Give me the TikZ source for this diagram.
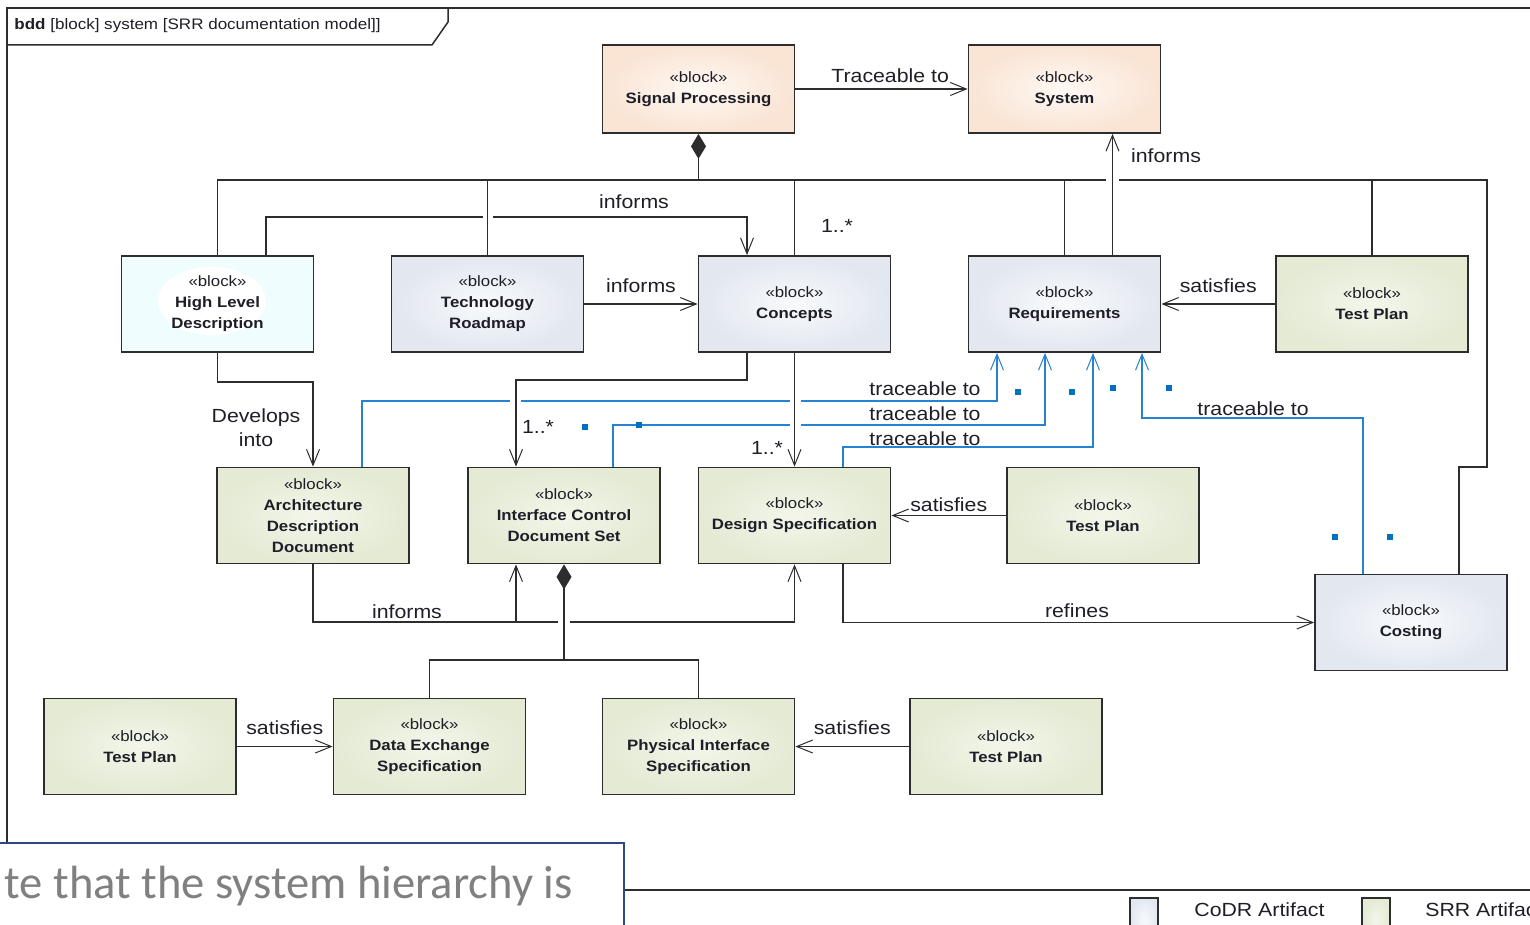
\documentclass[tikz,border=0pt]{standalone}
\usepackage{fontspec}
\newfontfamily\diafont{Liberation Sans}[FakeStretch=1.12]
\newfontfamily\notefont{Carlito}
\usetikzlibrary{arrows.meta}

\definecolor{edge}{RGB}{45,45,45}
\definecolor{ink}{RGB}{30,30,40}
\definecolor{trace}{RGB}{40,130,210}
\definecolor{tracemark}{RGB}{0,112,192}
\definecolor{noteblue}{RGB}{47,72,130}
\definecolor{notegray}{RGB}{128,128,128}
\definecolor{sysin}{RGB}{254,249,244}
\definecolor{sysout}{RGB}{250,228,212}
\definecolor{codrin}{RGB}{248,250,252}
\definecolor{codrout}{RGB}{226,231,240}
\definecolor{srrin}{RGB}{243,246,234}
\definecolor{srrout}{RGB}{228,234,212}
\definecolor{hldfill}{RGB}{240,253,255}

\newcommand{\blkfont}{\diafont\fontsize{7.5}{10.5}\selectfont}
\newcommand{\lblfont}{\diafont\fontsize{9.5}{11}\selectfont}

\begin{document}
\begin{tikzpicture}[x=0.5pt, y=-0.5pt,
    block/.style={rectangle, draw=edge, line width=0.9pt, minimum width=96pt, minimum height=48pt, align=center, inner sep=1pt, font=\blkfont, text=ink},
    sys/.style={block, minimum height=44pt, inner color=sysin, outer color=sysout},
    codr/.style={block, inner color=codrin, outer color=codrout},
    srr/.style={block, inner color=srrin, outer color=srrout},
    lbl/.style={font=\lblfont, text=ink, inner sep=1pt},
    assoc/.style={draw=edge, line width=0.75pt},
    dep/.style={assoc, -{Straight Barb[length=8pt, width=6.5pt, line width=0.5pt]}},
    comp/.style={assoc, {Diamond[length=12.5pt, width=7.5pt]}-},
    tracing/.style={draw=trace, line width=0.75pt, -{Straight Barb[length=8pt, width=6.5pt, line width=0.5pt]}}]

    \clip (0,0) rectangle (1530,925);

    % frame
    \draw[assoc] (7,850) -- (7,8) -- (1530,8);
    \draw[assoc] (7,45) -- (432,45) -- (448,22) -- (448,8);
    \node[anchor=west, font=\diafont\fontsize{7.6}{9}\selectfont, text=ink, inner sep=0pt] (title) at (14,26) {\textbf{bdd} [block] system [SRR documentation model]]};

    % blocks
    \node[sys] (sigproc) at (698.5,89) {«block»\\\textbf{Signal Processing}};
    \node[sys] (system) at (1064.5,89) {«block»\\\textbf{System}};

    \node[block, fill=hldfill, path picture={\fill[white] ([xshift=-2.75pt, yshift=1.5pt]path picture bounding box.center) ellipse (27pt and 17pt);}] (hld) at (217.5,304) {«block»\\\textbf{High Level}\\\textbf{Description}};
    \node[codr] (techroad) at (487.5,304) {«block»\\\textbf{Technology}\\\textbf{Roadmap}};
    \node[codr] (concepts) at (794.5,304) {«block»\\\textbf{Concepts}};
    \node[codr] (reqs) at (1064.5,304) {«block»\\\textbf{Requirements}};
    \node[srr] (testplanA) at (1372,304) {«block»\\\textbf{Test Plan}};

    \node[srr] (add) at (313,515.5) {«block»\\\textbf{Architecture}\\\textbf{Description}\\\textbf{Document}};
    \node[srr] (icd) at (564,515.5) {«block»\\\textbf{Interface Control}\\\textbf{Document Set}};
    \node[srr] (designspec) at (794.5,515.5) {«block»\\\textbf{Design Specification}};
    \node[srr] (testplanB) at (1103,515.5) {«block»\\\textbf{Test Plan}};
    \node[codr] (costing) at (1411,622.5) {«block»\\\textbf{Costing}};

    \node[srr] (testplanC) at (140,746.5) {«block»\\\textbf{Test Plan}};
    \node[srr] (des) at (429.5,746.5) {«block»\\\textbf{Data Exchange}\\\textbf{Specification}};
    \node[srr] (pis) at (698.5,746.5) {«block»\\\textbf{Physical Interface}\\\textbf{Specification}};
    \node[srr] (testplanD) at (1006,746.5) {«block»\\\textbf{Test Plan}};

    % top level composition
    \draw[comp] (sigproc.south) -- (698.5,180);
    \draw[assoc] (hld.north) -- (217.5,180) -- (1106,180) (1119,180) -- (1487,180) -- (1487,467) -- (1459,467) -- (1459,0 |- costing.north);
    \draw[assoc] (techroad.north) -- (487.5,180);
    \draw[assoc] (concepts.north) -- (794.5,180) node[lbl] at (837,226) {1..*};
    \draw[assoc] (reqs.north) -- (1064.5,180);
    \draw[assoc] (testplanA.north) -- (1372,180);

    % dependencies
    \draw[dep] (sigproc.east) -- (system.west) node[lbl, pos=0.55, above=2pt] {Traceable to};
    \draw[dep] (1112.5,0 |- reqs.north) -- (1112.5,0 |- system.south) node[lbl] at (1166,156) {informs};
    \draw[dep] (266,0 |- hld.north) -- (266,217) -- (483,217) (493,217) -- (747,217) -- (747,0 |- concepts.north) node[lbl] at (634,202) {informs};
    \draw[dep] (techroad.east) -- (concepts.west) node[lbl, midway, above=4.5pt] {informs};
    \draw[dep] (testplanA.west) -- (reqs.east) node[lbl, midway, above=4.5pt] {satisfies};
    \draw[dep] (hld.south) -- (217.5,382) -| (add.north) node[lbl, align=center] at (256,428) {Develops\\[1pt]into};
    \draw[dep] (747,0 |- concepts.south) -- (747,380) -| (icd.north -| 516,0) node[lbl] at (538,427) {1..*};
    \draw[dep] (concepts.south) -- (designspec.north) node[lbl] at (767,448) {1..*};
    \draw[dep] (testplanB.west) -- (designspec.east) node[lbl, midway, above=0.5pt] {satisfies};
    \draw[dep] (add.south) -- (313,622) -- (516,622) -- (icd.south -| 516,0) node[lbl] at (407,612) {informs};
    \draw[dep] (516,622) -- (558,622) (570,622) -- (794.5,622) -- (designspec.south);
    \draw[dep] (843,0 |- designspec.south) |- (costing.west) node[lbl] at (1077,611) {refines};

    % traceability
    \draw[tracing] (362,0 |- add.north) -- (362,401) -- (510,401) (521,401) -- (790,401) (801,401) -- (997,401) -- (997,0 |- reqs.south) node[lbl] at (925,389) {traceable to};
    \draw[tracing] (613,0 |- icd.north) -- (613,425) -- (790,425) (801,425) -- (1045,425) -- (1045,0 |- reqs.south) node[lbl] at (925,414) {traceable to};
    \draw[tracing] (843,0 |- designspec.north) -- (843,447) -- (1093,447) -- (1093,0 |- reqs.south) node[lbl] at (925,439) {traceable to};
    \draw[tracing] (1363,0 |- costing.north) -- (1363,418) -- (1142,418) -- (1142,0 |- reqs.south) node[lbl] at (1253,409) {traceable to};
    \foreach \x/\y in {585/427, 639/425, 1018/392, 1072/392, 1113/388, 1169/388, 1335/537, 1390/537}
        \fill[tracemark] (\x,\y) ++(-3,-3) rectangle ++(6,6);

    % ICD composition
    \draw[comp] (icd.south) -- (564,660);
    \draw[assoc] (des.north) |- (564,660) -| (pis.north);
    \draw[dep] (testplanC.east) -- (des.west) node[lbl, midway, above=4.5pt] {satisfies};
    \draw[dep] (testplanD.west) -- (pis.east) node[lbl, midway, above=4.5pt] {satisfies};

    % legend
    \draw[assoc] (624,890) -- (1530,890);
    \draw[assoc, inner color=codrin, outer color=codrout] (1130,898) rectangle (1158,940);
    \node[lbl, anchor=west] (codrkey) at (1192,910) {CoDR Artifact};
    \draw[assoc, inner color=srrin, outer color=srrout] (1362,898) rectangle (1390,940);
    \node[lbl, anchor=west] (srrkey) at (1423,910) {SRR Artifact};

    % overlay note
    \filldraw[fill=white, draw=noteblue, line width=0.9pt] (-5,843) rectangle (624,940);
    \node[anchor=base east, font=\notefont\fontsize{23.3}{28}\selectfont, text=notegray, inner sep=0pt] (note) at (573,898) {te that the system hierarchy is};
\end{tikzpicture}
\end{document}
